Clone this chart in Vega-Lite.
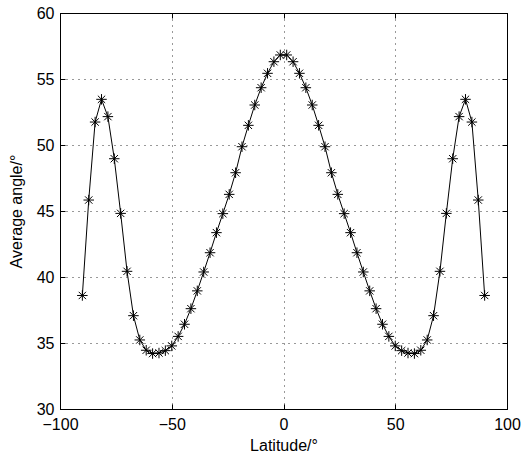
{
  "$schema": "https://vega.github.io/schema/vega-lite/v6.json",
  "width": 447,
  "height": 396,
  "autosize": "none",
  "padding": {"left": 60, "top": 13, "right": 15, "bottom": 51},
  "background": "white",
  "config": {
    "font": "Liberation Sans",
    "view": {"stroke": "black", "strokeWidth": 1},
    "axis": {
      "labelFontSize": 16,
      "labelColor": "black",
      "titleFontSize": 16,
      "titleFontWeight": "normal",
      "titleColor": "black",
      "tickColor": "black",
      "tickSize": -5,
      "domainColor": "black",
      "gridColor": "#333333",
      "gridDash": [1, 5],
      "gridWidth": 1
    }
  },
  "data": {
    "values": [
      {"lat": -90.0, "angle": 38.6},
      {"lat": -87.14, "angle": 45.83},
      {"lat": -84.29, "angle": 51.74},
      {"lat": -81.43, "angle": 53.46},
      {"lat": -78.57, "angle": 52.15},
      {"lat": -75.71, "angle": 48.96},
      {"lat": -72.86, "angle": 44.82},
      {"lat": -70.0, "angle": 40.43},
      {"lat": -67.14, "angle": 37.07},
      {"lat": -64.29, "angle": 35.23},
      {"lat": -61.43, "angle": 34.45},
      {"lat": -58.57, "angle": 34.2},
      {"lat": -55.71, "angle": 34.24},
      {"lat": -52.86, "angle": 34.42},
      {"lat": -50.0, "angle": 34.78},
      {"lat": -47.14, "angle": 35.5},
      {"lat": -44.29, "angle": 36.42},
      {"lat": -41.43, "angle": 37.6},
      {"lat": -38.57, "angle": 38.95},
      {"lat": -35.71, "angle": 40.38},
      {"lat": -32.86, "angle": 41.84},
      {"lat": -30.0, "angle": 43.36},
      {"lat": -27.14, "angle": 44.8},
      {"lat": -24.29, "angle": 46.26},
      {"lat": -21.43, "angle": 47.9},
      {"lat": -18.57, "angle": 49.87},
      {"lat": -15.71, "angle": 51.49},
      {"lat": -12.86, "angle": 53.03},
      {"lat": -10.0, "angle": 54.34},
      {"lat": -7.14, "angle": 55.43},
      {"lat": -4.29, "angle": 56.31},
      {"lat": -1.43, "angle": 56.82},
      {"lat": 1.43, "angle": 56.82},
      {"lat": 4.29, "angle": 56.31},
      {"lat": 7.14, "angle": 55.43},
      {"lat": 10.0, "angle": 54.34},
      {"lat": 12.86, "angle": 53.03},
      {"lat": 15.71, "angle": 51.49},
      {"lat": 18.57, "angle": 49.87},
      {"lat": 21.43, "angle": 47.9},
      {"lat": 24.29, "angle": 46.26},
      {"lat": 27.14, "angle": 44.8},
      {"lat": 30.0, "angle": 43.36},
      {"lat": 32.86, "angle": 41.84},
      {"lat": 35.71, "angle": 40.38},
      {"lat": 38.57, "angle": 38.95},
      {"lat": 41.43, "angle": 37.6},
      {"lat": 44.29, "angle": 36.42},
      {"lat": 47.14, "angle": 35.5},
      {"lat": 50.0, "angle": 34.78},
      {"lat": 52.86, "angle": 34.42},
      {"lat": 55.71, "angle": 34.24},
      {"lat": 58.57, "angle": 34.2},
      {"lat": 61.43, "angle": 34.45},
      {"lat": 64.29, "angle": 35.23},
      {"lat": 67.14, "angle": 37.07},
      {"lat": 70.0, "angle": 40.43},
      {"lat": 72.86, "angle": 44.82},
      {"lat": 75.71, "angle": 48.96},
      {"lat": 78.57, "angle": 52.15},
      {"lat": 81.43, "angle": 53.46},
      {"lat": 84.29, "angle": 51.74},
      {"lat": 87.14, "angle": 45.83},
      {"lat": 90.0, "angle": 38.6}
    ]
  },
  "layer": [
    {
      "mark": {"type": "line", "color": "black", "strokeWidth": 1},
      "encoding": {
        "x": {
          "field": "lat", "type": "quantitative",
          "scale": {"domain": [-100, 100], "nice": false, "zero": false},
          "axis": {"orient": "bottom", "values": [-100, -50, 0, 50, 100], "title": "Latitude/°", "grid": true, "labelPadding": 12, "titlePadding": 5, "labelFlush": false}
        },
        "y": {
          "field": "angle", "type": "quantitative",
          "scale": {"domain": [30, 60], "nice": false, "zero": false},
          "axis": {"orient": "left", "values": [30, 35, 40, 45, 50, 55, 60], "title": "Average angle/°", "grid": true, "labelPadding": 11, "titlePadding": 12, "labelFlush": false}
        }
      }
    },
    {
      "mark": {"type": "point", "shape": "M-1,0L1,0M0,-1L0,1M-0.7,-0.7L0.7,0.7M-0.7,0.7L0.7,-0.7", "filled": false, "stroke": "black", "strokeWidth": 1, "size": 110, "opacity": 1},
      "encoding": {
        "x": {
          "field": "lat", "type": "quantitative",
          "scale": {"domain": [-100, 100], "nice": false, "zero": false},
          "axis": {"orient": "top", "values": [-100, -50, 0, 50, 100], "labels": false, "title": null, "grid": false}
        },
        "y": {
          "field": "angle", "type": "quantitative",
          "scale": {"domain": [30, 60], "nice": false, "zero": false},
          "axis": {"orient": "right", "values": [30, 35, 40, 45, 50, 55, 60], "labels": false, "title": null, "grid": false}
        }
      }
    }
  ],
  "resolve": {"axis": {"x": "independent", "y": "independent"}}
}
